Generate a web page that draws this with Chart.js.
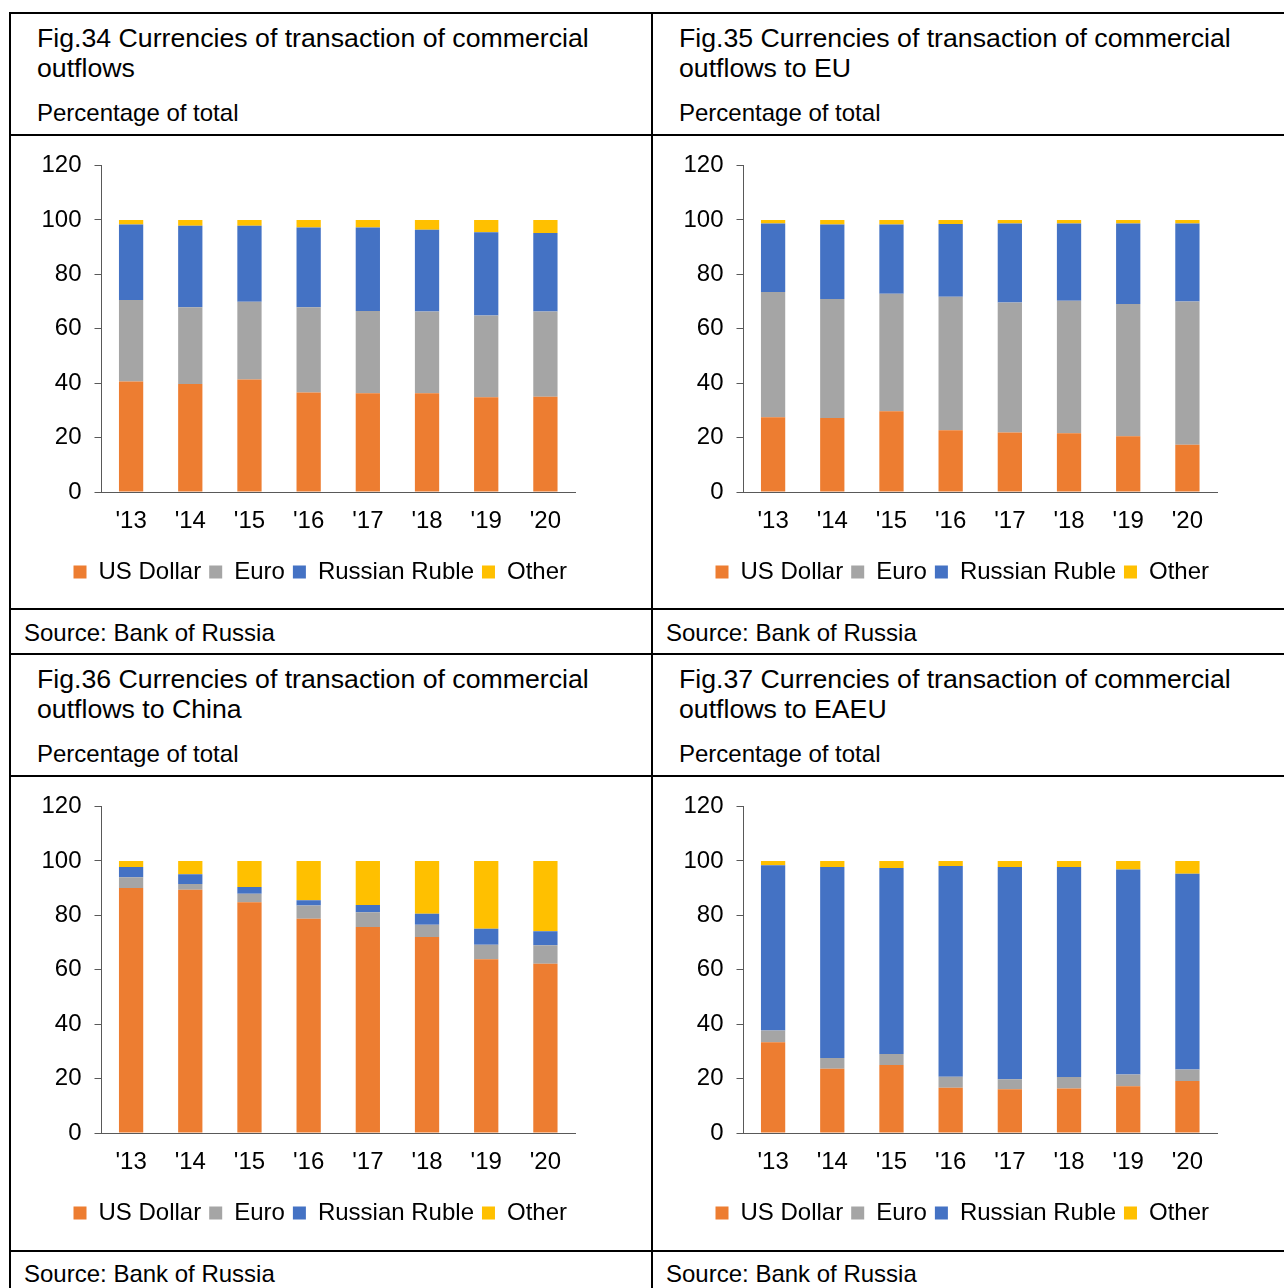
<!DOCTYPE html>
<html lang="en">
<head>
    <meta charset="UTF-8">
    <title>Currencies of transaction of commercial outflows</title>
    <script src="https://cdn.jsdelivr.net/npm/chart.js"></script>
    <style>
        body {
            margin: 0;
            background: #fff;
            font-family: "Liberation Sans", Arial, sans-serif;
            color: #000;
        }
        .page {
            position: relative;
            width: 1284px;
            height: 1288px;
            overflow: hidden;
        }
        .hl {
            position: absolute;
            left: 9px;
            width: 1290px;
            height: 2px;
            background: #000;
        }
        .vl {
            position: absolute;
            top: 12px;
            width: 2px;
            height: 1290px;
            background: #000;
        }
        .txt {
            position: absolute;
            font-size: 24px;
            line-height: 30px;
            white-space: nowrap;
        }
        .title {
            font-size: 26.7px;
        }
        .box {
            position: absolute;
            width: 640px;
            height: 471px;
        }
    </style>
</head>
<body>
    <div class="page">
        <div class="hl" style="top:12px"></div>
        <div class="hl" style="top:134px"></div>
        <div class="hl" style="top:608px"></div>
        <div class="hl" style="top:653px"></div>
        <div class="hl" style="top:775px"></div>
        <div class="hl" style="top:1250px"></div>
        <div class="vl" style="left:9px"></div>
        <div class="vl" style="left:651px"></div>

        <div class="txt title" style="left:37px; top:23px">Fig.34 Currencies of transaction of commercial<br>outflows</div>
        <div class="txt" style="left:37px; top:98px">Percentage of total</div>
        <div class="box" style="left:11px; top:137px"><canvas id="fig34" width="640" height="471"></canvas></div>
        <div class="txt" style="left:24px; top:618px">Source: Bank of Russia</div>

        <div class="txt title" style="left:679px; top:23px">Fig.35 Currencies of transaction of commercial<br>outflows to EU</div>
        <div class="txt" style="left:679px; top:98px">Percentage of total</div>
        <div class="box" style="left:653px; top:137px"><canvas id="fig35" width="640" height="471"></canvas></div>
        <div class="txt" style="left:666px; top:618px">Source: Bank of Russia</div>

        <div class="txt title" style="left:37px; top:664px">Fig.36 Currencies of transaction of commercial<br>outflows to China</div>
        <div class="txt" style="left:37px; top:739px">Percentage of total</div>
        <div class="box" style="left:11px; top:778px"><canvas id="fig36" width="640" height="471"></canvas></div>
        <div class="txt" style="left:24px; top:1259px">Source: Bank of Russia</div>

        <div class="txt title" style="left:679px; top:664px">Fig.37 Currencies of transaction of commercial<br>outflows to EAEU</div>
        <div class="txt" style="left:679px; top:739px">Percentage of total</div>
        <div class="box" style="left:653px; top:778px"><canvas id="fig37" width="640" height="471"></canvas></div>
        <div class="txt" style="left:666px; top:1259px">Source: Bank of Russia</div>
    </div>

    <script>
        const years = ["'13", "'14", "'15", "'16", "'17", "'18", "'19", "'20"];
        const yTicks = [0, 20, 40, 60, 80, 100, 120];

        // Fig.34 - all commercial outflows
        const usd34 = [40.6, 39.7, 41.4, 36.6, 36.3, 36.3, 34.8, 35.0];
        const eur34 = [30.0, 28.2, 28.5, 31.3, 30.2, 30.1, 30.1, 31.4];
        const rub34 = [27.7, 30.0, 28.0, 29.3, 30.7, 30.0, 30.6, 28.8];
        const oth34 = [1.7, 2.1, 2.1, 2.8, 2.8, 3.6, 4.5, 4.8];

        // Fig.35 - outflows to EU
        const usd35 = [27.5, 27.2, 29.7, 22.7, 21.9, 21.6, 20.5, 17.4];
        const eur35 = [46.0, 43.8, 43.2, 49.1, 47.8, 48.7, 48.6, 52.6];
        const rub35 = [25.2, 27.3, 25.4, 26.7, 29.0, 28.4, 29.6, 28.7];
        const oth35 = [1.3, 1.7, 1.7, 1.5, 1.3, 1.3, 1.3, 1.3];

        // Fig.36 - outflows to China
        const usd36 = [90.1, 89.4, 84.8, 78.8, 75.7, 72.1, 63.9, 62.2];
        const eur36 = [3.9, 2.1, 3.2, 4.8, 5.5, 4.5, 5.3, 6.8];
        const rub36 = [3.8, 3.6, 2.4, 2.0, 2.6, 4.0, 5.9, 5.2];
        const oth36 = [2.2, 4.9, 9.6, 14.4, 16.2, 19.4, 24.9, 25.8];

        // Fig.37 - outflows to EAEU
        const usd37 = [33.4, 23.6, 25.0, 16.6, 16.1, 16.4, 17.2, 19.1];
        const eur37 = [4.3, 4.0, 4.0, 4.1, 3.7, 4.2, 4.3, 4.2];
        const rub37 = [60.7, 70.2, 68.4, 77.5, 78.0, 77.2, 75.4, 72.0];
        const oth37 = [1.6, 2.2, 2.6, 1.8, 2.2, 2.2, 3.1, 4.7];

        const seriesNames = ['US Dollar', 'Euro', 'Russian Ruble', 'Other'];
        const seriesColors = ['#ED7D31', '#A5A5A5', '#4472C4', '#FFC000'];

        Chart.defaults.font.family = '"Liberation Sans", Arial, sans-serif';
        Chart.defaults.font.size = 24;
        Chart.defaults.color = '#000';

        // the legend in the original sits a bit right of the canvas centre
        const legendNudge = {
            id: 'legendNudge',
            afterLayout(chart) {
                chart.legend.left += 17;
                chart.legend.right += 17;
            }
        };

        function drawChart(id, usd, eur, rub, oth) {
            const values = [usd, eur, rub, oth];
            const ctx = document.getElementById(id).getContext('2d');
            new Chart(ctx, {
                type: 'bar',
                data: {
                    labels: years,
                    datasets: values.map((data, i) => ({
                        label: seriesNames[i],
                        data: data,
                        backgroundColor: seriesColors[i],
                        borderWidth: 0,
                        categoryPercentage: 1,
                        barPercentage: 0.41
                    }))
                },
                options: {
                    responsive: false,
                    animation: false,
                    layout: {
                        padding: { left: 20.5, right: 76, top: 28.6, bottom: 14 }
                    },
                    plugins: {
                        legend: {
                            position: 'bottom',
                            labels: {
                                boxWidth: 13,
                                boxHeight: 13,
                                padding: 8,
                                color: '#000'
                            }
                        },
                        tooltip: { enabled: false }
                    },
                    scales: {
                        x: {
                            stacked: true,
                            grid: { drawOnChartArea: false, drawTicks: false },
                            border: { color: '#595959', width: 1 },
                            ticks: { padding: 15 },
                            afterFit: scale => { scale.height = 60; }
                        },
                        y: {
                            stacked: true,
                            min: yTicks[0],
                            max: yTicks[yTicks.length - 1],
                            ticks: { stepSize: 20, padding: 13 },
                            grid: { drawOnChartArea: false, tickLength: 7, color: '#595959' },
                            border: { color: '#595959', width: 1 },
                            afterFit: scale => { scale.width = 70; }
                        }
                    }
                },
                plugins: [legendNudge]
            });
        }

        drawChart('fig34', usd34, eur34, rub34, oth34);
        drawChart('fig35', usd35, eur35, rub35, oth35);
        drawChart('fig36', usd36, eur36, rub36, oth36);
        drawChart('fig37', usd37, eur37, rub37, oth37);
    </script>
</body>
</html>
